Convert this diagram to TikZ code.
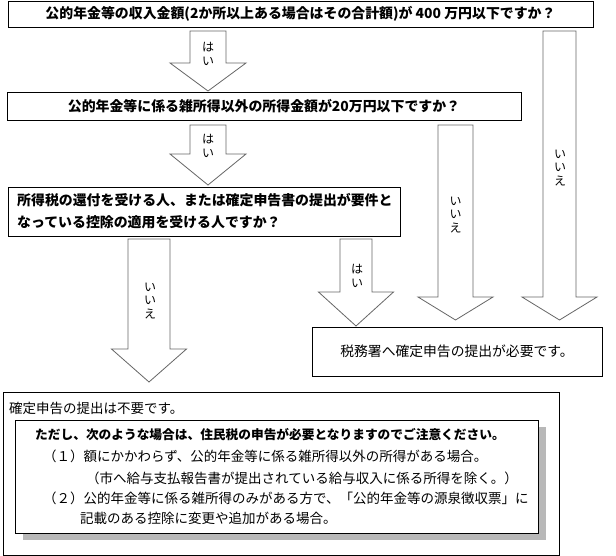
\documentclass[tikz,border=0pt]{standalone}
\usepackage{fontspec}
\setmainfont{Noto Sans CJK JP}
\begin{document}
\begin{tikzpicture}[x=1pt,y=-1pt,
  box/.style={draw=black, line width=0.8pt, fill=white, inner sep=0pt},
  barrow/.style={draw=black!60, line width=0.8pt, fill=white, line join=miter},
  lab/.style={font=\fontsize{12}{13.5}\selectfont, align=center, inner sep=0pt},
  qtext/.style={font=\fontsize{13.9}{16}\selectfont\bfseries, inner sep=0pt},
  ltext/.style={inner sep=0pt, anchor=west},
  ntext/.style={font=\fontsize{13.5}{16}\selectfont, inner sep=0pt, anchor=west},
]
\useasboundingbox (0,0) rectangle (616,556);
\fill[white] (0,0) rectangle (616,556);

\newcommand\blockarrow[6]{%
  \draw[barrow] ({#1-#5},#2) -- ({#1+#5},#2) -- ({#1+#5},#3) -- ({#1+#6},#3) -- (#1,#4) -- ({#1-#6},#3) -- ({#1-#5},#3) -- cycle;}

% question boxes
\node[box, qtext, minimum width=585pt, minimum height=26pt] (q1) at (300.5,14)
  {公的年金等の収入金額(2か所以上ある場合はその合計額)が 400 万円以下ですか？};
\node[box, qtext, minimum width=514pt, minimum height=28pt] (q2) at (264,106)
  {公的年金等に係る雑所得以外の所得金額が20万円以下ですか？};
\node[box, minimum width=392pt, minimum height=49pt] (q3) at (204,211.5) {};
\node[ltext, qtext] (q3a) at (17,200) {所得税の還付を受ける人、または確定申告書の提出が要件と};
\node[ltext, qtext] (q3b) at (17,222) {なっている控除の適用を受ける人ですか？};

% result box
\node[box, font=\fontsize{13.8}{16}\selectfont, minimum width=290pt, minimum height=49pt] (res) at (457,351.5)
  {税務署へ確定申告の提出が必要です。};

% block arrows
\blockarrow{208}{31}{63}{91}{18}{38}
\node[lab] (l1) at (208,54) {は\\い};
\blockarrow{208}{125}{154}{185}{18}{38}
\node[lab] (l2) at (208,146) {は\\い};
\blockarrow{149}{239}{349}{382}{21}{37.5}
\node[lab] (l3) at (150,301) {い\\い\\え};
\blockarrow{356}{239}{292}{326}{16}{37.5}
\node[lab] (l4) at (357,276) {は\\い};
\blockarrow{455.5}{125}{297}{320}{17.5}{37.5}
\node[lab] (l5) at (455.5,215) {い\\い\\え};
\blockarrow{559.5}{31}{297}{320}{16.5}{37.5}
\node[lab] (l6) at (560,168) {い\\い\\え};

% bottom box
\node[box, minimum width=556pt, minimum height=163pt] (nb) at (281,473.5) {};
\node[ntext] (nbt) at (9,408) {確定申告の提出は不要です。};
\fill[black!28] (23,427) rectangle (546,540);
\node[box, minimum width=523pt, minimum height=113pt] (inner) at (276.5,476.5) {};
\node[ntext, font=\fontsize{12.7}{16}\selectfont\bfseries] (i0) at (35,435)
  {ただし、次のような場合は、住民税の申告が必要となりますのでご注意ください。};
\node[ntext] (i1) at (43,456) {（１）額にかかわらず、公的年金等に係る雑所得以外の所得がある場合。};
\node[ntext] (i2) at (86,478) {（市へ給与支払報告書が提出されている給与収入に係る所得を除く。）};
\node[ntext] (i3) at (43,498) {（２）公的年金等に係る雑所得のみがある方で、「公的年金等の源泉徴収票」に};
\node[ntext] (i4) at (80,518) {記載のある控除に変更や追加がある場合。};
\end{tikzpicture}
\end{document}
